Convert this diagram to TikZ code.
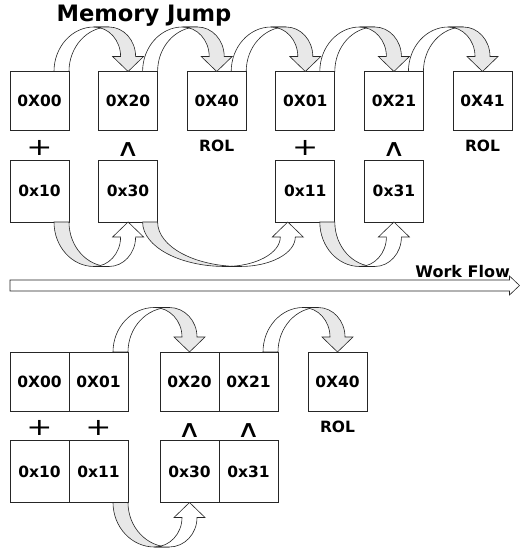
\documentclass[tikz,border=0pt]{standalone}
\usepackage{fontspec}
\setmainfont{DejaVu Sans}
\usetikzlibrary{positioning,calc}

\definecolor{jumpgray}{gray}{0.91}
\definecolor{lineblack}{gray}{0.15}

\tikzset{
	membox/.style={draw=lineblack, line width=0.7pt, fill=white, minimum width=59pt, minimum height=59pt,
		inner sep=0pt, outer sep=0pt, font=\bfseries\fontsize{15.5}{18}\selectfont},
	lowbox/.style={membox, minimum height=62pt},
	oplabel/.style={inner sep=0pt, yshift=-2.5pt, font=\fontsize{24}{26}\selectfont},
	wedgelabel/.style={oplabel, yshift=-2pt},
	rollabel/.style={inner sep=0pt, yshift=-1pt, font=\bfseries\fontsize{15.5}{18}\selectfont},
	titlelabel/.style={inner sep=0pt, font=\bfseries\fontsize{22.6}{26}\selectfont},
	flowlabel/.style={inner sep=0pt, font=\bfseries\fontsize{16}{19}\selectfont},
	jumpline/.style={draw=lineblack, line width=0.6pt},
}

% wide plus and wedge signs
\newcommand{\opplus}{\scalebox{1.3}[1]{+}}
\newcommand{\opwedge}{\scalebox{1.35}[1]{∧}}

% curved block arrow: #1 corner of source, #2 tip on target, #3 1 over / -1 under, #4 fill near source, #5 fill near head
\newcommand{\jumparrow}[5]{%
	\path let \p1=(#1), \p2=(#2) in
		coordinate (ja) at ({\x1-15pt},\y1)
		coordinate (jai) at (\x1,\y1)
		coordinate (jb) at ({\x2-7.5pt},{\y2+(#3)*15pt})
		coordinate (jbi) at ({\x2+7.5pt},{\y2+(#3)*15pt})
		coordinate (jp) at ({\x1-15pt+0.6*(\x2-\x1+7.5pt)},{\y1+(#3)*44.5pt})
		coordinate (jpi) at ({\x1+0.6*(\x2-\x1+7.5pt)},{\y1+(#3)*44.5pt})
		coordinate (jh1) at ({\x2-15.5pt},{\y2+(#3)*15pt})
		coordinate (jh2) at ({\x2+15.5pt},{\y2+(#3)*15pt});
	\draw[jumpline, fill=#4] (ja) .. controls ($(ja)!.552!(ja|-jp)$) and ($(jp)!.552!(ja|-jp)$) .. (jp)
		-- (jpi) .. controls ($(jpi)!.552!(jai|-jpi)$) and ($(jai)!.552!(jai|-jpi)$) .. (jai) -- cycle;
	\draw[jumpline, fill=#5] (jp) .. controls ($(jp)!.552!(jb|-jp)$) and ($(jb)!.552!(jb|-jp)$) .. (jb)
		-- (jh1) -- (#2) -- (jh2) -- (jbi)
		.. controls ($(jbi)!.552!(jbi|-jpi)$) and ($(jpi)!.552!(jbi|-jpi)$) .. (jpi) -- cycle;
}

\begin{document}
\begin{tikzpicture}[x=1pt, y=1pt]
	\useasboundingbox (0,0) rectangle (521,553);

	% Title
	\node[titlelabel, anchor=base] (title) at (144,531.3) {Memory Jump};

	% Memory blocks, first layout
	\node[membox] (a00) at (39.5,452) {0X00};
	\node[membox, right=29.6pt of a00] (a20) {0X20};
	\node[membox, right=29.6pt of a20] (a40) {0X40};
	\node[membox, right=29.6pt of a40] (a01) {0X01};
	\node[membox, right=29.6pt of a01] (a21) {0X21};
	\node[membox, right=29.6pt of a21] (a41) {0X41};

	\node[lowbox, below=29.5pt of a00] (b10) {0x10};
	\node[lowbox, below=29.5pt of a20] (b30) {0x30};
	\node[lowbox, below=29.5pt of a01] (b11) {0x11};
	\node[lowbox, below=29.5pt of a21] (b31) {0x31};

	% Operations
	\node[oplabel] (opa00) at ($(a00.south)!.5!(b10.north)$) {\opplus};
	\node[wedgelabel] (opa20) at ($(a20.south)!.5!(b30.north)$) {\opwedge};
	\node[rollabel] (opa40) at ($(a40.south)!.5!(a40.south|-b10.north)$) {ROL};
	\node[oplabel] (opa01) at ($(a01.south)!.5!(b11.north)$) {\opplus};
	\node[wedgelabel] (opa21) at ($(a21.south)!.5!(b31.north)$) {\opwedge};
	\node[rollabel] (opa41) at ($(a41.south)!.5!(a41.south|-b10.north)$) {ROL};

	% Jumps
	\jumparrow{a00.north east}{a20.north}{1}{white}{jumpgray}
	\jumparrow{a20.north east}{a40.north}{1}{white}{jumpgray}
	\jumparrow{a40.north east}{a01.north}{1}{white}{jumpgray}
	\jumparrow{a01.north east}{a21.north}{1}{white}{jumpgray}
	\jumparrow{a21.north east}{a41.north}{1}{white}{jumpgray}
	\jumparrow{b10.south east}{b30.south}{-1}{jumpgray}{white}
	\jumparrow{b30.south east}{[xshift=-17.5pt]b11.south}{-1}{jumpgray}{white}
	\jumparrow{b11.south east}{b31.south}{-1}{jumpgray}{white}

	% Work flow
	\coordinate (flowtail) at (10,267.5);
	\coordinate (flowtip) at (519.5,267.5);
	\draw[jumpline, fill=white] ($(flowtail)+(0,5.5)$) -- ($(flowtip)+(-10,5.5)$) -- ($(flowtip)+(-10,9.5)$)
		-- (flowtip) -- ($(flowtip)+(-10,-9.5)$) -- ($(flowtip)+(-10,-5.5)$) -- ($(flowtail)+(0,-5.5)$) -- cycle;
	\node[flowlabel, anchor=base east] (flow) at (510,275.5) {Work Flow};

	% Memory blocks, second layout
	\node[membox] (c00) at (39.5,171.5) {0X00};
	\node[membox, right=0pt of c00] (c01) {0X01};
	\node[membox, right=32pt of c01] (c20) {0X20};
	\node[membox, right=0pt of c20] (c21) {0X21};
	\node[membox, right=30pt of c21] (c40) {0X40};

	\node[lowbox, below=29.5pt of c00] (d10) {0x10};
	\node[lowbox, right=0pt of d10] (d11) {0x11};
	\node[lowbox, below=29.5pt of c20] (d30) {0x30};
	\node[lowbox, right=0pt of d30] (d31) {0x31};

	\node[oplabel] (opc00) at ($(c00.south)!.5!(d10.north)$) {\opplus};
	\node[oplabel] (opc01) at ($(c01.south)!.5!(d11.north)$) {\opplus};
	\node[wedgelabel] (opc20) at ($(c20.south)!.5!(d30.north)$) {\opwedge};
	\node[wedgelabel] (opc21) at ($(c21.south)!.5!(d31.north)$) {\opwedge};
	\node[rollabel] (opc40) at ($(c40.south)!.5!(c40.south|-d10.north)$) {ROL};

	\jumparrow{c01.north east}{c20.north}{1}{white}{jumpgray}
	\jumparrow{c21.north east}{c40.north}{1}{white}{jumpgray}
	\jumparrow{d11.south east}{d30.south}{-1}{jumpgray}{white}
\end{tikzpicture}
\end{document}
